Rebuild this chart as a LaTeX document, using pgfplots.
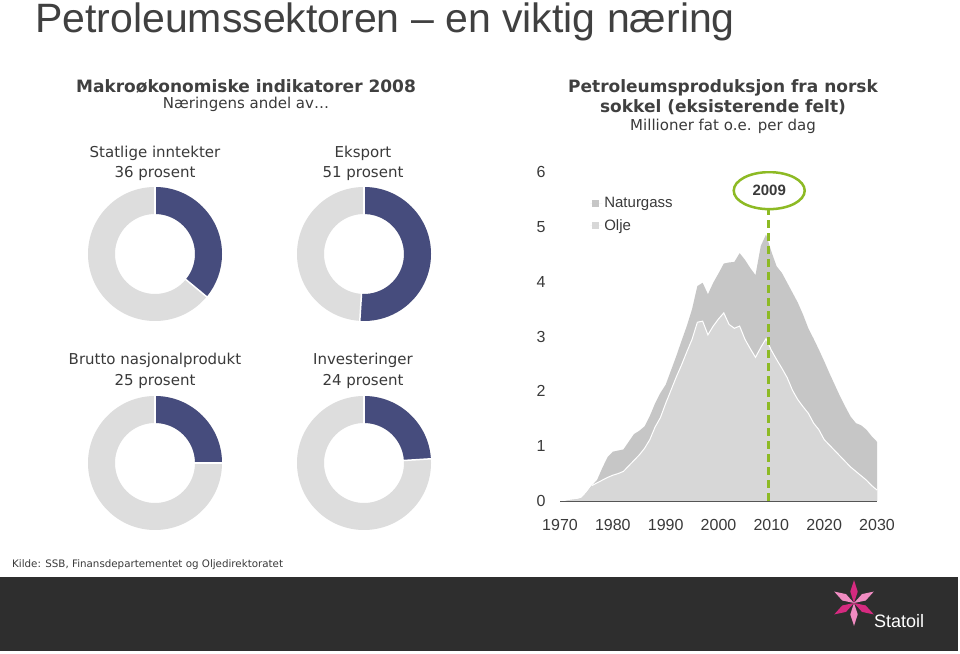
\documentclass[border=0pt]{standalone}
\usepackage{pgfplots}
\pgfplotsset{compat=1.18}
\usepackage{pgfplotstable}
\usepackage{fontspec}
\setmainfont{Liberation Sans}
\newfontfamily\dv{DejaVu Sans}
\usetikzlibrary{shapes.geometric}

\definecolor{titlegray}{HTML}{404040}
\definecolor{textgray}{HTML}{3A3A3A}
\definecolor{navy}{RGB}{70,76,125}
\definecolor{ringgray}{RGB}{221,221,221}
\definecolor{gasgray}{RGB}{198,198,198}
\definecolor{oilgray}{RGB}{215,215,215}
\definecolor{axisgray}{HTML}{555555}
\definecolor{lime}{RGB}{141,186,36}
\definecolor{band}{HTML}{2E2E2E}
\definecolor{pinkA}{HTML}{D62A80}
\definecolor{pinkB}{HTML}{F08CC2}

\pgfplotstableread{
year oil total
1971 0.00 0.00
1972 0.02 0.02
1973 0.03 0.03
1974 0.05 0.05
1975 0.15 0.15
1976 0.28 0.28
1977 0.33 0.38
1978 0.38 0.60
1979 0.43 0.80
1980 0.47 0.90
1981 0.50 0.92
1982 0.54 0.94
1983 0.64 1.08
1984 0.74 1.22
1985 0.84 1.28
1986 0.96 1.36
1987 1.12 1.55
1988 1.35 1.78
1989 1.52 1.97
1990 1.78 2.12
1991 2.02 2.38
1992 2.26 2.64
1993 2.48 2.92
1994 2.72 3.19
1995 2.95 3.50
1996 3.26 3.92
1997 3.28 3.98
1998 3.03 3.77
1999 3.19 3.98
2000 3.32 4.15
2001 3.43 4.33
2002 3.22 4.35
2003 3.15 4.36
2004 3.19 4.52
2005 2.95 4.40
2006 2.78 4.25
2007 2.62 4.12
2008 2.80 4.65
2009 2.96 4.86
2010 2.75 4.55
2011 2.58 4.28
2012 2.42 4.16
2013 2.25 3.98
2014 2.02 3.80
2015 1.85 3.62
2016 1.72 3.40
2017 1.60 3.15
2018 1.42 2.96
2019 1.30 2.76
2020 1.12 2.55
2021 1.02 2.33
2022 0.92 2.12
2023 0.82 1.91
2024 0.72 1.72
2025 0.62 1.54
2026 0.54 1.42
2027 0.46 1.38
2028 0.38 1.30
2029 0.28 1.18
2030 0.20 1.08
}\proddata

\begin{document}
\begin{tikzpicture}[x=1pt,y=1pt]
\fill[white] (0,0) rectangle (960,653);
\useasboundingbox (0,0) rectangle (960,653);

% main title
\node[anchor=base west, inner sep=0pt, text=titlegray, font=\fontsize{41}{46}\selectfont] at (35,620.7) {Petroleumssektoren -- en viktig næring};

% left headline
\node[anchor=base, inner sep=0pt, text=titlegray, font=\dv\bfseries\fontsize{17}{20}\selectfont] at (246,560) {Makroøkonomiske indikatorer 2008};
\node[anchor=base, inner sep=0pt, text=textgray, font=\dv\fontsize{15}{18}\selectfont] at (246,544) {Næringens andel av…};

% right headline
\node[anchor=base, inner sep=0pt, text=titlegray, font=\dv\bfseries\fontsize{17}{20}\selectfont] at (723,560) {Petroleumsproduksjon fra norsk};
\node[anchor=base, inner sep=0pt, text=titlegray, font=\dv\bfseries\fontsize{17}{20}\selectfont] at (723,540) {sokkel (eksisterende felt)};
\node[anchor=base, inner sep=0pt, text=textgray, font=\dv\fontsize{15}{18}\selectfont] at (723,522) {Millioner fat o.e. per dag};

% donut labels
\begin{scope}[every node/.style={anchor=base, inner sep=0pt, text=textgray, font=\dv\fontsize{15}{18}\selectfont}]
\node at (155,495) {Statlige inntekter};
\node at (155,475) {36 prosent};
\node at (363,495) {Eksport};
\node at (363,475) {51 prosent};
\node at (155,288) {Brutto nasjonalprodukt};
\node at (155,267) {25 prosent};
\node at (363,288) {Investeringer};
\node at (363,267) {24 prosent};
\end{scope}

% donuts (share of total)
\foreach \cx/\cy/\p in {155/399/0.36, 364/399/0.51, 155/190/0.25, 364/190/0.24}{
  \pgfmathsetmacro\ea{90-360*\p}
  \fill[ringgray, even odd rule] (\cx,\cy) circle[radius=67] (\cx,\cy) circle[radius=40];
  \fill[navy] (\cx,\cy) ++(90:67) arc[start angle=90,end angle=\ea,radius=67]
     -- ++(\ea:-27) arc[start angle=\ea,end angle=90,radius=40] -- cycle;
  \draw[white, line width=1.5] (\cx,\cy) ++(90:39) -- ++(90:29);
  \draw[white, line width=1.5] (\cx,\cy) ++(\ea:39) -- ++(\ea:29);
}

% source
\node[anchor=base west, inner sep=0pt, text=textgray, font=\dv\fontsize{10.3}{12}\selectfont] at (12,86) {Kilde: SSB, Finansdepartementet og Oljedirektoratet};

% bottom band
\fill[band] (0,2) rectangle (958,76);

% logo
\foreach \a/\c in {90/pinkA, 150/pinkB, 210/pinkA, 270/pinkB, 330/pinkA, 30/pinkB}{
  \fill[\c] (854,50) -- ++(\a-18:12) -- ++(\a+18:12) -- ++(\a+162:12) -- cycle;
}
\node[anchor=base west, inner sep=0pt, text=white, font=\fontsize{18}{20}\selectfont] at (874,26) {Statoil};

% production chart
\begin{axis}[
  at={(560pt,152pt)}, anchor=south west, scale only axis,
  width=317pt, height=329pt,
  xmin=1970, xmax=2030, ymin=0, ymax=6,
  axis x line*=bottom, axis y line*=left,
  y axis line style={draw=none},
  x axis line style={draw=axisgray, line width=0.9pt, -},
  xtick={1970,1980,...,2030}, ytick={0,1,...,6},
  tick style={draw=none},
  /pgf/number format/assume math mode=true,
  /pgf/number format/1000 sep={},
  ticklabel style={font=\fontsize{16}{18}\selectfont, text=textgray},
  xticklabel style={yshift=-15pt},
  yticklabel style={xshift=-11pt},
  legend style={at={(0.095,0.93)}, anchor=north west, draw=none, fill=none,
     font=\fontsize{15}{17}\selectfont, text=textgray, inner sep=0pt, row sep=6.5pt},
  legend cell align=left,
  legend image code/.code={\fill[#1] (2pt,-3.5pt) rectangle (9pt,3.5pt); \path (0pt,0pt) -- (12pt,0pt);},
]
\addplot[fill=gasgray, draw=none] table[x=year,y=total] {\proddata} \closedcycle;
\addlegendentry{Naturgass}
\addplot[fill=oilgray, draw=none] table[x=year,y=oil] {\proddata} \closedcycle;
\addlegendentry{Olje}
\addplot[white, line width=1pt, forget plot, restrict x to domain=1976:2030] table[x=year,y=oil] {\proddata};
\draw[lime, line width=2.5pt, dash pattern=on 8pt off 5pt] (axis cs:2009.5,0) -- (axis cs:2009.5,5.3);
\node[draw=lime, line width=2.5pt, ellipse, fill=white, minimum width=71pt, minimum height=37pt, inner sep=0pt,
      text=textgray, font=\bfseries\fontsize{15}{17}\selectfont] at (axis cs:2009.6,5.66) {2009};
\end{axis}
\end{tikzpicture}
\end{document}
